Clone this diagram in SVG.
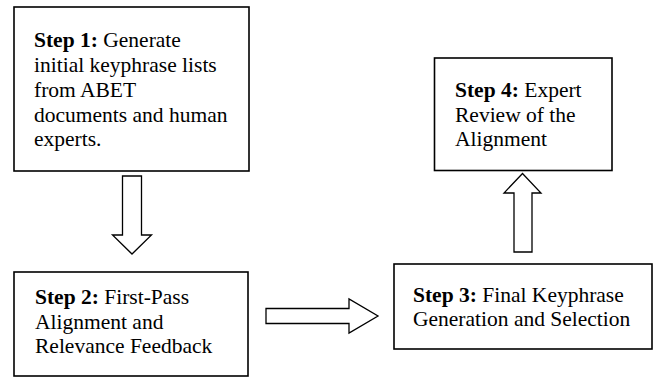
<svg xmlns="http://www.w3.org/2000/svg" width="657" height="377" viewBox="0 0 657 377">
  <style>
    .box { fill: #ffffff; stroke: #000000; stroke-width: 1.6; }
    .arrow { fill: #ffffff; stroke: #000000; stroke-width: 1.3; stroke-linejoin: miter; }
    .label { font-family: "Liberation Serif", "Times New Roman", serif; font-size: 21.5px; fill: #000000; }
    .label tspan.b { font-weight: bold; }
  </style>
  <rect width="657" height="377" fill="#ffffff"/>

  <!-- Block arrows between the steps -->
  <g id="connectors">
    <!-- Step 1 down to Step 2 -->
    <polygon class="arrow" points="122.5,176 141.5,176 141.5,235 151.5,235 132,254 112.5,235 122.5,235"/>
    <!-- Step 2 across to Step 3 -->
    <polygon class="arrow" points="266,308.5 349,308.5 349,299 378,316 349,333 349,323.5 266,323.5"/>
    <!-- Step 3 up to Step 4 -->
    <polygon class="arrow" points="514,252 532,252 532,193 541,193 522.5,173.5 504,193 514,193"/>
  </g>

  <g id="step1">
    <rect class="box" x="14" y="7" width="235" height="164"/>
    <text class="label" x="34" y="47"><tspan class="b">Step 1:</tspan> Generate</text>
    <text class="label" x="34" y="72">initial keyphrase lists</text>
    <text class="label" x="34" y="97">from ABET</text>
    <text class="label" x="34" y="121.5">documents and human</text>
    <text class="label" x="34" y="146">experts.</text>
  </g>

  <g id="step2">
    <rect class="box" x="14" y="272" width="234" height="104"/>
    <text class="label" x="35" y="304"><tspan class="b">Step 2:</tspan> First-Pass</text>
    <text class="label" x="35" y="328.5">Alignment and</text>
    <text class="label" x="35" y="353">Relevance Feedback</text>
  </g>

  <g id="step3">
    <rect class="box" x="394" y="264" width="258" height="85"/>
    <text class="label" x="413" y="302"><tspan class="b">Step 3:</tspan> Final Keyphrase</text>
    <text class="label" x="413" y="326">Generation and Selection</text>
  </g>

  <g id="step4">
    <rect class="box" x="434.5" y="58" width="177.5" height="112.5"/>
    <text class="label" x="455" y="97"><tspan class="b">Step 4:</tspan> Expert</text>
    <text class="label" x="455" y="122">Review of the</text>
    <text class="label" x="455" y="146">Alignment</text>
  </g>
</svg>
